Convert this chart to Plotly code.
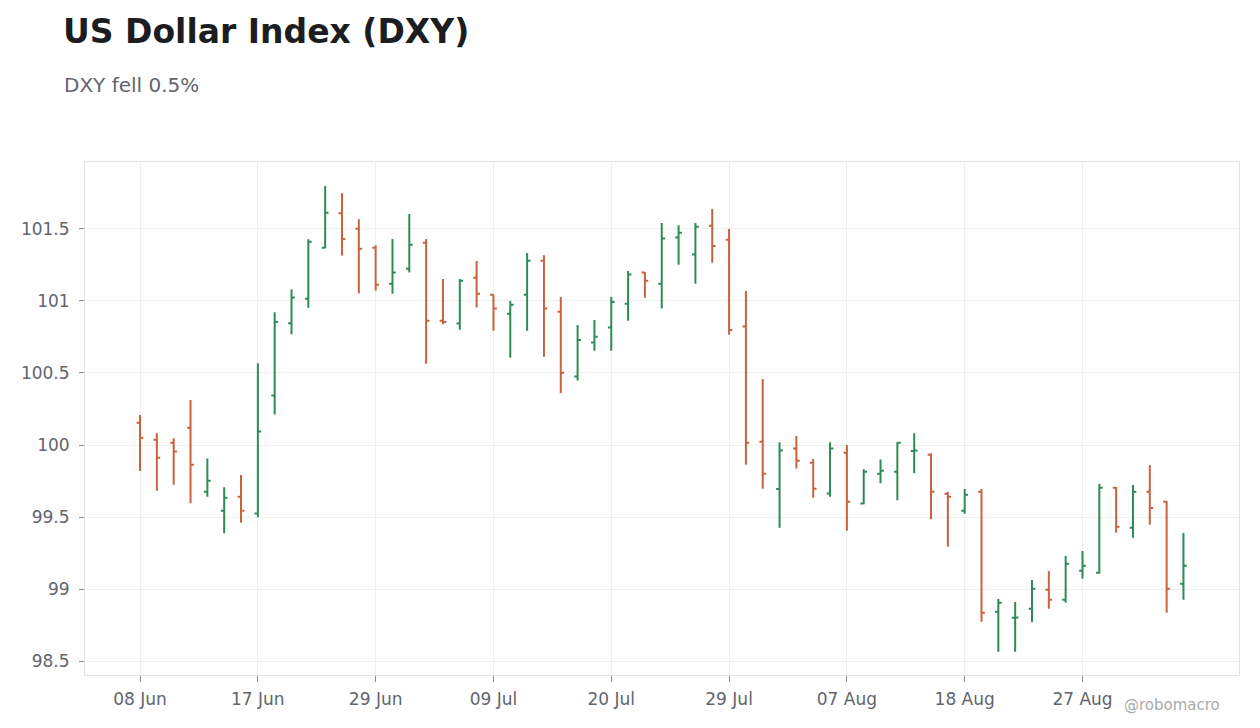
import plotly.graph_objects as go

dates = [
    "2020-06-08", "2020-06-09", "2020-06-10", "2020-06-11", "2020-06-12",
    "2020-06-15", "2020-06-16", "2020-06-17", "2020-06-18", "2020-06-22",
    "2020-06-23", "2020-06-24", "2020-06-25", "2020-06-26", "2020-06-29",
    "2020-06-30", "2020-07-01", "2020-07-02", "2020-07-06", "2020-07-07",
    "2020-07-08", "2020-07-09", "2020-07-10", "2020-07-13", "2020-07-14",
    "2020-07-15", "2020-07-16", "2020-07-17", "2020-07-20", "2020-07-21",
    "2020-07-22", "2020-07-23", "2020-07-24", "2020-07-27", "2020-07-28",
    "2020-07-29", "2020-07-30", "2020-07-31", "2020-08-03", "2020-08-04",
    "2020-08-05", "2020-08-06", "2020-08-07", "2020-08-10", "2020-08-11",
    "2020-08-12", "2020-08-13", "2020-08-14", "2020-08-17", "2020-08-18",
    "2020-08-19", "2020-08-20", "2020-08-21", "2020-08-24", "2020-08-25",
    "2020-08-26", "2020-08-27", "2020-08-28", "2020-08-31", "2020-09-01",
    "2020-09-02", "2020-09-03", "2020-09-04",
]

open_ = [
    100.155, 100.037, 100.016, 100.120, 99.676, 99.544, 99.641, 99.525, 100.343, 100.845,
    101.016, 101.370, 101.609, 101.502, 101.370, 101.120, 101.224, 101.405, 100.863, 100.843,
    101.162, 101.044, 100.912, 101.044, 101.280, 100.926, 100.475, 100.711, 100.815, 100.981,
    101.197, 101.120, 101.440, 101.322, 101.523, 101.426, 100.822, 100.023, 99.694, 99.975,
    99.877, 99.664, 99.947, 99.593, 99.801, 99.815, 99.958, 99.933, 99.662, 99.544,
    99.676, 98.843, 98.800, 98.863, 98.995, 98.926, 99.127, 99.113, 99.704, 99.426,
    99.676, 99.606, 99.037,
]
high = [
    100.208, 100.081, 100.046, 100.312, 99.907, 99.706, 99.792, 100.567, 100.921, 101.081,
    101.428, 101.799, 101.748, 101.567, 101.387, 101.431, 101.604, 101.431, 101.153, 101.153,
    101.278, 101.044, 101.000, 101.333, 101.317, 101.028, 100.833, 100.868, 101.028, 101.208,
    101.201, 101.542, 101.525, 101.542, 101.639, 101.500, 101.069, 100.458, 100.019, 100.062,
    99.903, 100.019, 100.000, 99.831, 99.900, 100.019, 100.081, 99.942, 99.674, 99.694,
    99.694, 98.931, 98.910, 99.062, 99.125, 99.229, 99.264, 99.729, 99.708, 99.722,
    99.861, 99.611, 99.389,
]
low = [
    99.820, 99.683, 99.724, 99.595, 99.641, 99.387, 99.460, 99.498, 100.211, 100.769,
    100.953, 101.366, 101.315, 101.053, 101.072, 101.051, 101.197, 100.565, 100.838, 100.801,
    100.954, 100.794, 100.606, 100.794, 100.613, 100.359, 100.447, 100.655, 100.655, 100.863,
    101.023, 100.947, 101.252, 101.120, 101.266, 100.766, 99.863, 99.697, 99.426, 99.836,
    99.634, 99.641, 99.405, 99.588, 99.734, 99.616, 99.803, 99.484, 99.294, 99.523,
    98.773, 98.565, 98.565, 98.769, 98.863, 98.905, 99.072, 99.106, 99.391, 99.356,
    99.447, 98.836, 98.926,
]
close = [
    100.051, 99.912, 99.954, 99.863, 99.752, 99.634, 99.544, 100.093, 100.854, 101.025,
    101.412, 101.613, 101.431, 101.363, 101.113, 101.197, 101.391, 100.863, 100.854, 101.141,
    101.051, 100.947, 100.974, 101.280, 100.947, 100.502, 100.729, 100.752, 100.993, 101.183,
    101.141, 101.433, 101.474, 101.516, 101.382, 100.799, 100.016, 99.801, 99.961, 99.891,
    99.697, 99.975, 99.606, 99.815, 99.822, 100.016, 99.962, 99.676, 99.641, 99.655,
    98.836, 98.905, 98.802, 99.002, 98.926, 99.176, 99.162, 99.704, 99.433, 99.676,
    99.562, 99.002, 99.162,
]

tick_dates = dates[::7]
tick_labels = ["08 Jun", "17 Jun", "29 Jun", "09 Jul", "20 Jul",
               "29 Jul", "07 Aug", "18 Aug", "27 Aug"]
y_ticks = [98.5, 99, 99.5, 100, 100.5, 101, 101.5]

W, H = 1260, 728
L, R, T, B = 77, 29, 154, 61
pw, ph = W - L - R, H - T - B


def px(x, y):
    # page pixel position -> paper coords (page has an 8px body offset)
    return (x - 8 - L) / pw, (H - B - (y - 8)) / ph


fig = go.Figure(go.Ohlc(
    x=dates, open=open_, high=high, low=low, close=close,
    increasing=dict(line=dict(color="#2e8b57", width=2)),
    decreasing=dict(line=dict(color="#c9623f", width=2)),
    tickwidth=0.2,
    showlegend=False,
))

title_x, title_y = px(61, 31)
sub_x, sub_y = px(62, 85)
wm_x, wm_y = px(1222, 705)

fig.update_layout(
    width=W, height=H,
    margin=dict(l=L, r=R, t=T, b=B),
    paper_bgcolor="white", plot_bgcolor="white",
    font=dict(family="DejaVu Sans", color="#62656d", size=17),
    xaxis=dict(
        type="category", rangeslider=dict(visible=False),
        range=[-3.27, 65.3],
        tickvals=tick_dates, ticktext=tick_labels,
        showgrid=True, gridcolor="#efefef",
        ticks="outside", ticklen=6, tickcolor="#8a8d93",
        ticklabelstandoff=3,
        showline=True, linecolor="#e3e3e3", mirror=True,
    ),
    yaxis=dict(
        range=[98.403, 101.965],
        tickvals=y_ticks,
        showgrid=True, gridcolor="#efefef",
        ticks="outside", ticklen=5, tickcolor="#8a8d93",
        ticklabelstandoff=6,
        showline=True, linecolor="#e3e3e3", mirror=True,
        zeroline=False,
    ),
    annotations=[
        dict(text="<b>US Dollar Index (DXY)</b>", x=title_x, y=title_y,
             xref="paper", yref="paper", showarrow=False,
             xanchor="left", yanchor="middle",
             font=dict(size=33, color="#1c1d21")),
        dict(text="DXY fell 0.5%", x=sub_x, y=sub_y,
             xref="paper", yref="paper", showarrow=False,
             xanchor="left", yanchor="middle",
             font=dict(size=20, color="#62656d")),
        dict(text="@robomacro", x=wm_x, y=wm_y,
             xref="paper", yref="paper", showarrow=False,
             xanchor="right", yanchor="middle",
             font=dict(size=15, color="#aaaaaa")),
    ],
)

fig.write_html("out.html")
